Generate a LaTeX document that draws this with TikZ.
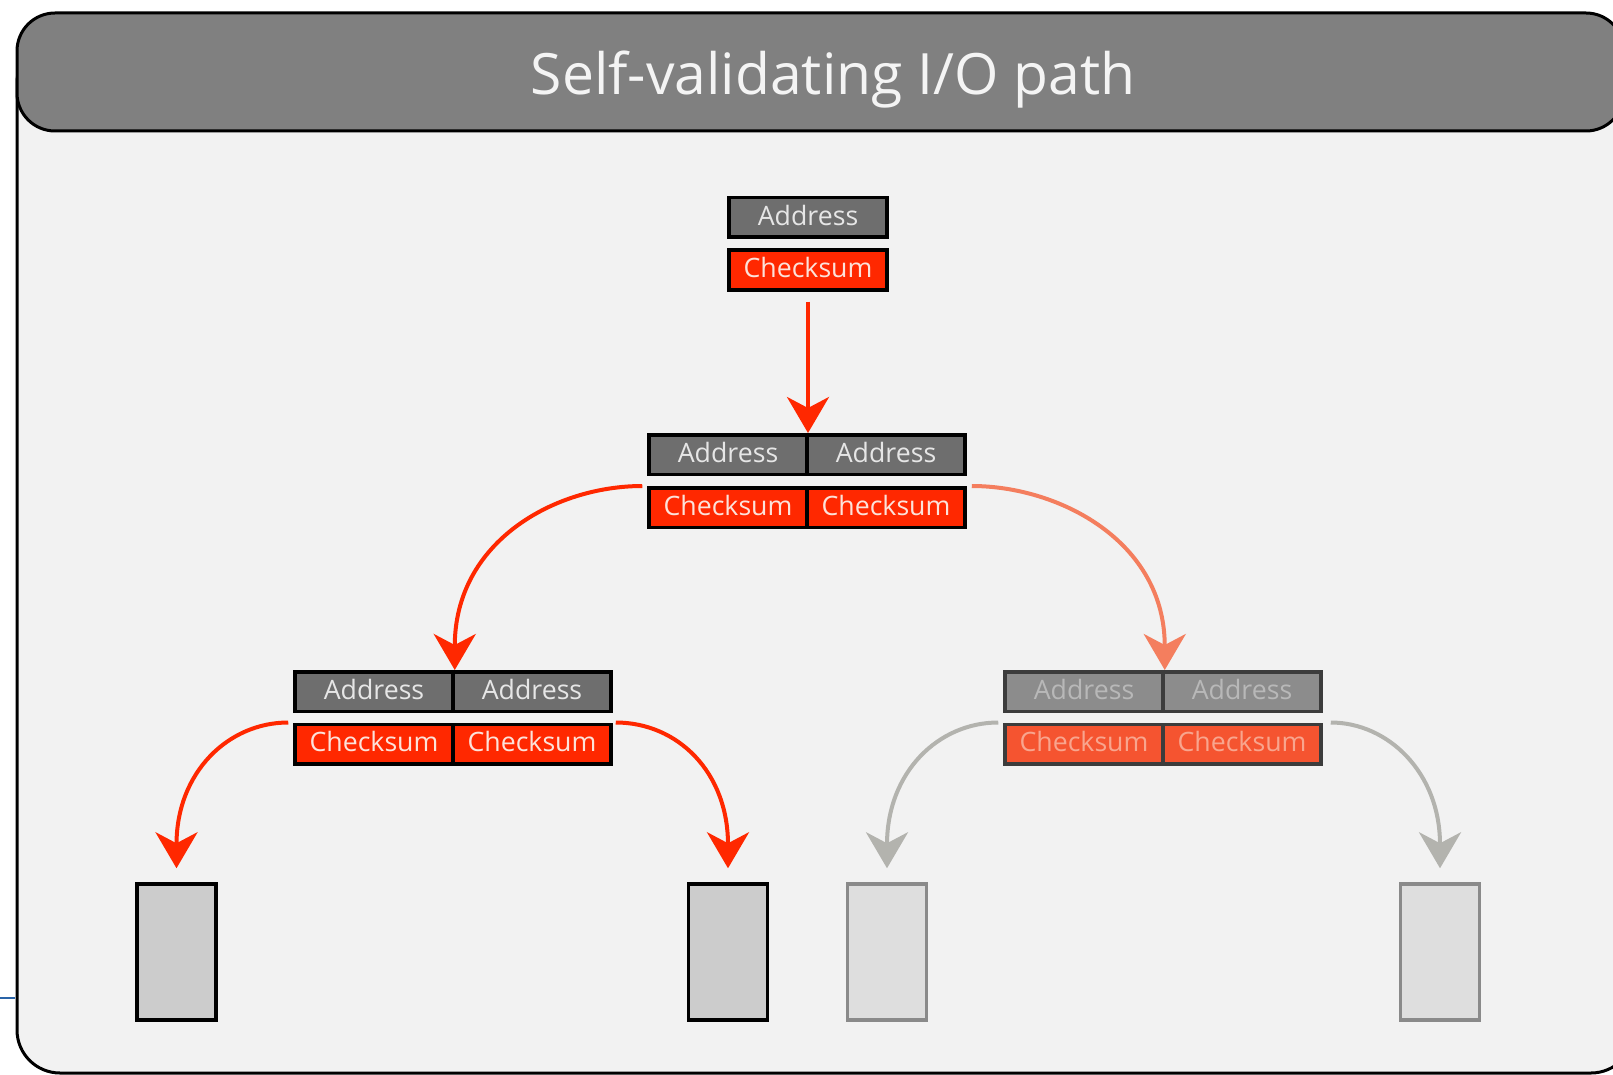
\documentclass[tikz,border=0pt]{standalone}
\usepackage{fontspec}
\setmainfont{Open Sans}
\usetikzlibrary{arrows.meta}

\definecolor{bodybg}{HTML}{F2F2F2}
\definecolor{headgray}{HTML}{808080}
\definecolor{titletext}{HTML}{F4F4F4}
\definecolor{addrgray}{HTML}{6E6E6E}
\definecolor{addrtext}{HTML}{E6E6E6}
\definecolor{chkred}{RGB}{255,40,0}
\definecolor{chktext}{HTML}{FCE2DA}
\definecolor{fadeaddr}{HTML}{8C8C8C}
\definecolor{fadeaddrtext}{HTML}{B8B8B8}
\definecolor{fadeborder}{HTML}{3C3C3C}
\definecolor{fadechk}{RGB}{245,84,48}
\definecolor{fadechktext}{RGB}{248,165,142}
\definecolor{salmon}{RGB}{244,126,94}
\definecolor{arrowgray}{HTML}{B3B3AE}
\definecolor{leaffill}{HTML}{CCCCCC}
\definecolor{fadeleaffill}{HTML}{DEDEDE}
\definecolor{fadeleafborder}{HTML}{8A8A8A}
\definecolor{strayblue}{HTML}{2A64A8}

\newcommand{\cellfont}{\fontsize{26.7}{30}\selectfont}
\newcommand{\titlefont}{\fontsize{57}{62}\selectfont}

\begin{document}
\begin{tikzpicture}[x=1pt,y=-1pt,
  cell/.style={draw=black, line width=3.5pt, minimum width=158pt,
    minimum height=39.5pt, inner sep=0pt, font=\cellfont,
    text height=20pt, text depth=4.5pt},
  addr/.style={cell, fill=addrgray, text=addrtext},
  chk/.style={cell, fill=chkred, text=chktext},
  fadeaddrcell/.style={cell, draw=fadeborder, fill=fadeaddr, text=fadeaddrtext},
  fadechkcell/.style={cell, draw=fadeborder, fill=fadechk, text=fadechktext},
  leaf/.style={draw=black, line width=3.5pt, fill=leaffill,
    minimum width=79pt, minimum height=136pt, inner sep=0pt},
  fadeleaf/.style={leaf, draw=fadeleafborder, fill=fadeleaffill},
  link/.style={line width=4pt,
    -{Stealth[length=36pt, width=42pt, inset=11pt]}},
  redlink/.style={link, draw=chkred},
  salmonlink/.style={link, draw=salmon},
  graylink/.style={link, draw=arrowgray}]

\useasboundingbox (0,0) rectangle (1613,1075);
\clip (0,0) rectangle (1613,1075);
\fill[white] (0,0) rectangle (1613,1075);

% frame: body panel with header bar on top
\draw[line width=3pt, fill=bodybg, rounded corners=43pt]
  (17,40) rectangle (1634,1073);
\draw[line width=3pt, fill=headgray, rounded corners=38pt]
  (17,13) rectangle (1624,131);
\node[font=\titlefont, text=titletext, anchor=base, inner sep=0pt]
  (title) at (833,95) {Self-validating I/O path};

% stray mark at the left margin
\draw[strayblue, line width=2pt] (0,998) -- (15,998);

% root block
\node[addr] (a0) at (808,217.5) {Address};
\node[chk]  (c0) at (808,270) {Checksum};

% second level
\node[addr] (a21) at (728,454.5) {Address};
\node[addr] (a22) at (886,454.5) {Address};
\node[chk]  (c21) at (728,507.5) {Checksum};
\node[chk]  (c22) at (886,507.5) {Checksum};

% third level, left (active)
\node[addr] (a31) at (374,691.5) {Address};
\node[addr] (a32) at (532,691.5) {Address};
\node[chk]  (c31) at (374,744) {Checksum};
\node[chk]  (c32) at (532,744) {Checksum};

% third level, right (faded)
\node[fadeaddrcell] (a33) at (1084,691.5) {Address};
\node[fadeaddrcell] (a34) at (1242,691.5) {Address};
\node[fadechkcell]  (c33) at (1084,744) {Checksum};
\node[fadechkcell]  (c34) at (1242,744) {Checksum};

% data blocks
\node[leaf]     (d1) at (176.5,952) {};
\node[leaf]     (d2) at (728,952) {};
\node[fadeleaf] (d3) at (887,952) {};
\node[fadeleaf] (d4) at (1440,952) {};

% connectors
\draw[redlink, shorten <=10pt] (c0.south) -- (c0.south |- a21.north);

\draw[redlink, shorten <=5pt] (c21.north west)
  .. controls +(-92,0) and +(0,-129) .. (a31.north east);
\draw[salmonlink, shorten <=5pt] (c22.north east)
  .. controls +(92,0) and +(0,-129) .. (a33.north east);

\draw[redlink, shorten <=5pt, shorten >=14pt] (c31.north west)
  .. controls +(-65,0) and +(0,-110) .. (d1.north);
\draw[redlink, shorten <=3pt, shorten >=14pt] (c32.north east)
  .. controls +(65,0) and +(0,-110) .. (d2.north);
\draw[graylink, shorten <=5pt, shorten >=14pt] (c33.north west)
  .. controls +(-65,0) and +(0,-110) .. (d3.north);
\draw[graylink, shorten <=8pt, shorten >=14pt] (c34.north east)
  .. controls +(65,0) and +(0,-110) .. (d4.north);
\end{tikzpicture}
\end{document}
